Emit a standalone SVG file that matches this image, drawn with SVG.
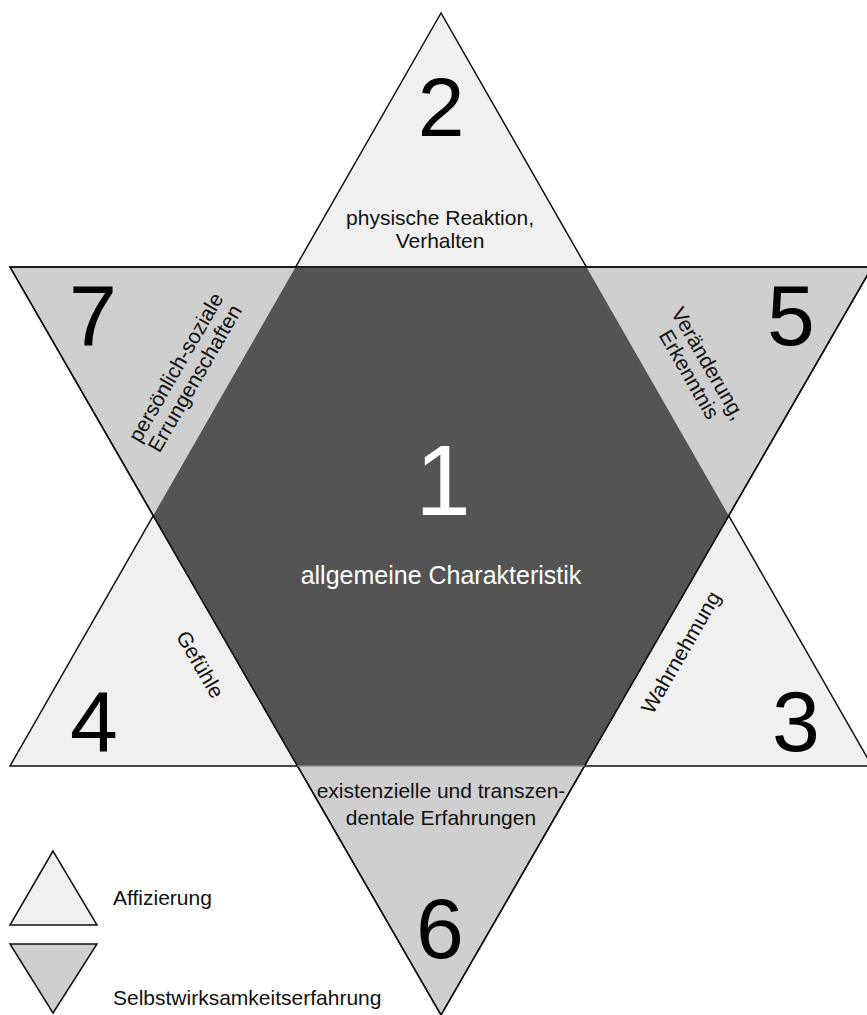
<svg xmlns="http://www.w3.org/2000/svg" width="867" height="1015" viewBox="0 0 867 1015">
<style>
.light{fill:#f0f0f0;stroke:#111;stroke-width:1.5;stroke-linejoin:miter}
.mid{fill:#cfcfcf;stroke:#111;stroke-width:1.5}
.dark{fill:#545454;stroke:none}
.outline{fill:none;stroke:#111;stroke-width:1.5}
.num{font-family:"Liberation Sans",Arial,sans-serif;font-size:86px;fill:#000;text-anchor:middle}
.lbl{font-family:"Liberation Sans",Arial,sans-serif;font-size:21px;fill:#111;text-anchor:middle}
.leg{font-family:"Liberation Sans",Arial,sans-serif;font-size:21px;fill:#111}
</style>
<rect width="867" height="1015" fill="#fff"/>
<g id="star">
  <polygon id="tri-up" class="light" points="441,13 10,766 872,766"/>
  <polygon id="tri-down" class="mid" points="10,267 872,267 441,1015"/>
  <polygon id="hexagon" class="dark" points="295.6,267 586.4,267 728.8,515.7 584.6,766 297.4,766 153.2,515.7"/>
  <polygon class="outline" points="10,267 872,267 441,1015"/>
  <line x1="297.4" y1="766" x2="584.6" y2="766" stroke="#8a8a8a" stroke-width="1.5"/>
</g>
<g id="connectors"></g>
<g id="node-1">
  <text x="443" y="515" class="num" style="font-size:100px;fill:#fff">1</text>
  <text x="441" y="584" class="lbl" style="font-size:25px;fill:#fff">allgemeine Charakteristik</text>
</g>
<g id="node-2">
  <text x="441" y="136" class="num" style="font-size:84px">2</text>
  <text x="440" y="225" class="lbl">physische Reaktion,</text>
  <text x="440" y="248" class="lbl">Verhalten</text>
</g>
<g id="node-3">
  <text x="796" y="751" class="num">3</text>
  <text class="lbl" transform="translate(687,656) rotate(-60)">Wahrnehmung</text>
</g>
<g id="node-4">
  <text x="94" y="751" class="num">4</text>
  <text class="lbl" transform="translate(194,668) rotate(60)">Gefühle</text>
</g>
<g id="node-5">
  <text x="791" y="345" class="num">5</text>
  <g transform="translate(702,367) rotate(60)">
    <text x="0" y="0" class="lbl">Veränderung,</text>
    <text x="0" y="22" class="lbl">Erkenntnis</text>
  </g>
</g>
<g id="node-6">
  <text x="440" y="958" class="num">6</text>
  <text x="441" y="798" class="lbl">existenzielle und transzen-</text>
  <text x="441" y="825" class="lbl">dentale Erfahrungen</text>
</g>
<g id="node-7">
  <text x="93" y="345" class="num">7</text>
  <g transform="translate(182,371) rotate(-60)">
    <text x="0" y="0" class="lbl">persönlich-soziale</text>
    <text x="0" y="22" class="lbl">Errungenschaften</text>
  </g>
</g>
<g id="legend">
  <polygon class="light" points="53,851 10,925 97,925"/>
  <text x="113" y="905" class="leg">Affizierung</text>
  <polygon class="mid" points="10,944 97,944 53,1013"/>
  <text x="113" y="1005" class="leg">Selbstwirksamkeitserfahrung</text>
</g>
</svg>
